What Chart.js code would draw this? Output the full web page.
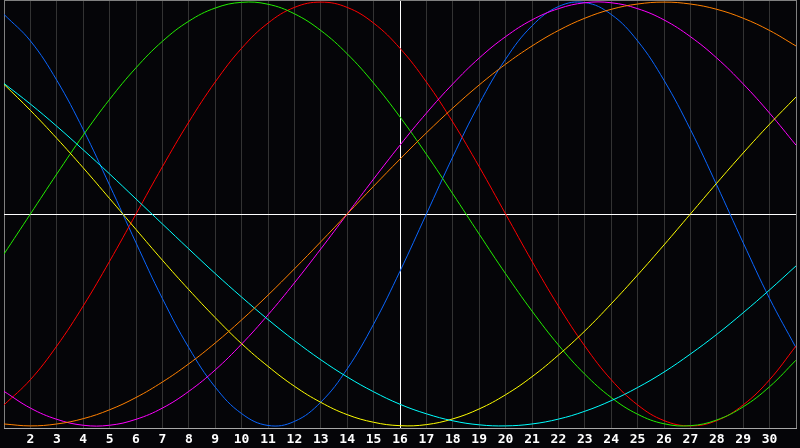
<!DOCTYPE html>
<html>
<head>
<meta charset="utf-8">
<script src="https://cdn.jsdelivr.net/npm/chart.js@4"></script>
<style>
  html, body { margin: 0; padding: 0; background: #050508; }
  canvas { display: block; }
</style>
</head>
<body>
<canvas id="myChart" width="800" height="448"></canvas>
<script>
// Days shown on the x axis (1 and 31 sit on the edges)
const days = [1, 2, 3, 4, 5, 6, 7, 8, 9, 10, 11, 12, 13, 14, 15, 16, 17, 18, 19, 20, 21, 22, 23, 24, 25, 26, 27, 28, 29, 30, 31];
const today = 16;

// Values, -100..100
const physical     = [94.2, 81.7, 63.1, 39.9, 13.6, -13.6, -39.9, -63.1, -81.7, -94.2, -99.8, -97.9, -88.8, -73.1, -52.0, -27.0, 0, 27.0, 52.0, 73.1, 88.8, 97.9, 99.8, 94.2, 81.7, 63.1, 39.9, 13.6, -13.6, -39.9, -63.1];
const emotional    = [-90.1, -78.2, -62.3, -43.4, -22.3, 0, 22.3, 43.4, 62.3, 78.2, 90.1, 97.5, 100, 97.5, 90.1, 78.2, 62.3, 43.4, 22.3, 0, -22.3, -43.4, -62.3, -78.2, -90.1, -97.5, -100, -97.5, -90.1, -78.2, -62.3];
const intellectual = [-18.9, 0, 18.9, 37.2, 54.1, 69.0, 81.5, 91.0, 97.2, 99.9, 99.0, 94.5, 86.6, 75.6, 61.8, 45.8, 28.2, 9.5, -9.5, -28.2, -45.8, -61.8, -75.6, -86.6, -94.5, -99.0, -99.9, -97.2, -91.0, -81.5, -69.0];
const intuitive    = [-83.7, -91.6, -96.9, -99.7, -99.7, -96.9, -91.6, -83.7, -73.6, -61.4, -47.6, -32.5, -16.5, 0, 16.5, 32.5, 47.6, 61.4, 73.6, 83.7, 91.6, 96.9, 99.7, 99.7, 96.9, 91.6, 83.7, 73.6, 61.4, 47.6, 32.5];
const aesthetic    = [61.2, 48.9, 35.7, 21.8, 7.3, -7.3, -21.8, -35.7, -48.9, -61.2, -71.9, -81.3, -88.9, -94.7, -98.3, -99.9, -99.4, -96.7, -92.0, -85.3, -76.8, -66.6, -55.2, -42.4, -28.8, -14.6, 0, 14.6, 28.8, 42.4, 55.2];
const awareness    = [-99.1, -100, -99.1, -96.6, -92.4, -86.6, -79.3, -70.7, -60.9, -50.0, -38.3, -25.9, -13.1, 0, 13.1, 25.9, 38.3, 50.0, 60.9, 70.7, 79.3, 86.6, 92.4, 96.6, 99.1, 100, 99.1, 96.6, 92.4, 86.6, 79.3];
const spiritual    = [61.6, 51.9, 41.4, 30.3, 18.9, 7.1, -4.7, -16.5, -28.1, -39.2, -49.8, -59.7, -68.8, -76.9, -83.9, -89.8, -94.3, -97.6, -99.5, -100, -99.1, -96.8, -93.1, -88.1, -81.9, -74.6, -66.1, -56.8, -46.6, -35.8, -24.5];

function pts(values) {
    return days.map((d, i) => ({ x: d, y: values[i] }));
}

function line(values, color) {
    return {
        data: pts(values),
        borderColor: color,
        borderWidth: 1,
        pointRadius: 0,
        tension: 0.4,
        fill: false
    };
}

const bgPlugin = {
    id: 'bg',
    beforeDraw(chart) {
        const c = chart.ctx;
        c.save();
        c.fillStyle = '#050508';
        c.fillRect(0, 0, chart.width, chart.height);
        c.restore();
    }
};

const ctx = document.getElementById('myChart').getContext('2d');
new Chart(ctx, {
    type: 'line',
    data: {
        datasets: [
            line(awareness, '#ff8000'),
            line(spiritual, '#00ffff'),
            line(aesthetic, '#ffff00'),
            line(intuitive, '#ff00ff'),
            line(intellectual, '#22ee00'),
            line(emotional, '#ff0000'),
            line(physical, '#0a66ff')
        ]
    },
    options: {
        responsive: false,
        animation: false,
        layout: { padding: 0 },
        plugins: {
            legend: { display: false },
            tooltip: { enabled: false }
        },
        scales: {
            x: {
                type: 'linear',
                min: 1,
                max: 31,
                afterFit: (axis) => { axis.height = 20; },
                border: { display: true, color: '#a8a8a8', width: 1 },
                grid: {
                    drawTicks: false,
                    lineWidth: 1,
                    color: (c) => {
                        const v = c.tick && c.tick.value;
                        if (v === today) return '#ffffff';
                        if (v === 1 || v === 31) return '#808080';
                        return '#333333';
                    }
                },
                ticks: {
                    stepSize: 1,
                    autoSkip: false,
                    maxRotation: 0,
                    padding: 4,
                    color: '#ffffff',
                    font: { family: 'DejaVu Sans Mono', size: 13, weight: 'bold' },
                    callback: (v) => (v === 1 || v === 31) ? '' : String(v)
                }
            },
            y: {
                min: -101,
                max: 101,
                border: { display: false },
                grid: {
                    drawTicks: false,
                    color: (c) => {
                        const v = c.tick && c.tick.value;
                        if (v === 0) return '#ffffff';
                        if (v === 101) return '#808080';
                        return 'transparent';
                    }
                },
                ticks: { display: false, stepSize: 101 }
            }
        }
    },
    plugins: [bgPlugin]
});
</script>
</body>
</html>
